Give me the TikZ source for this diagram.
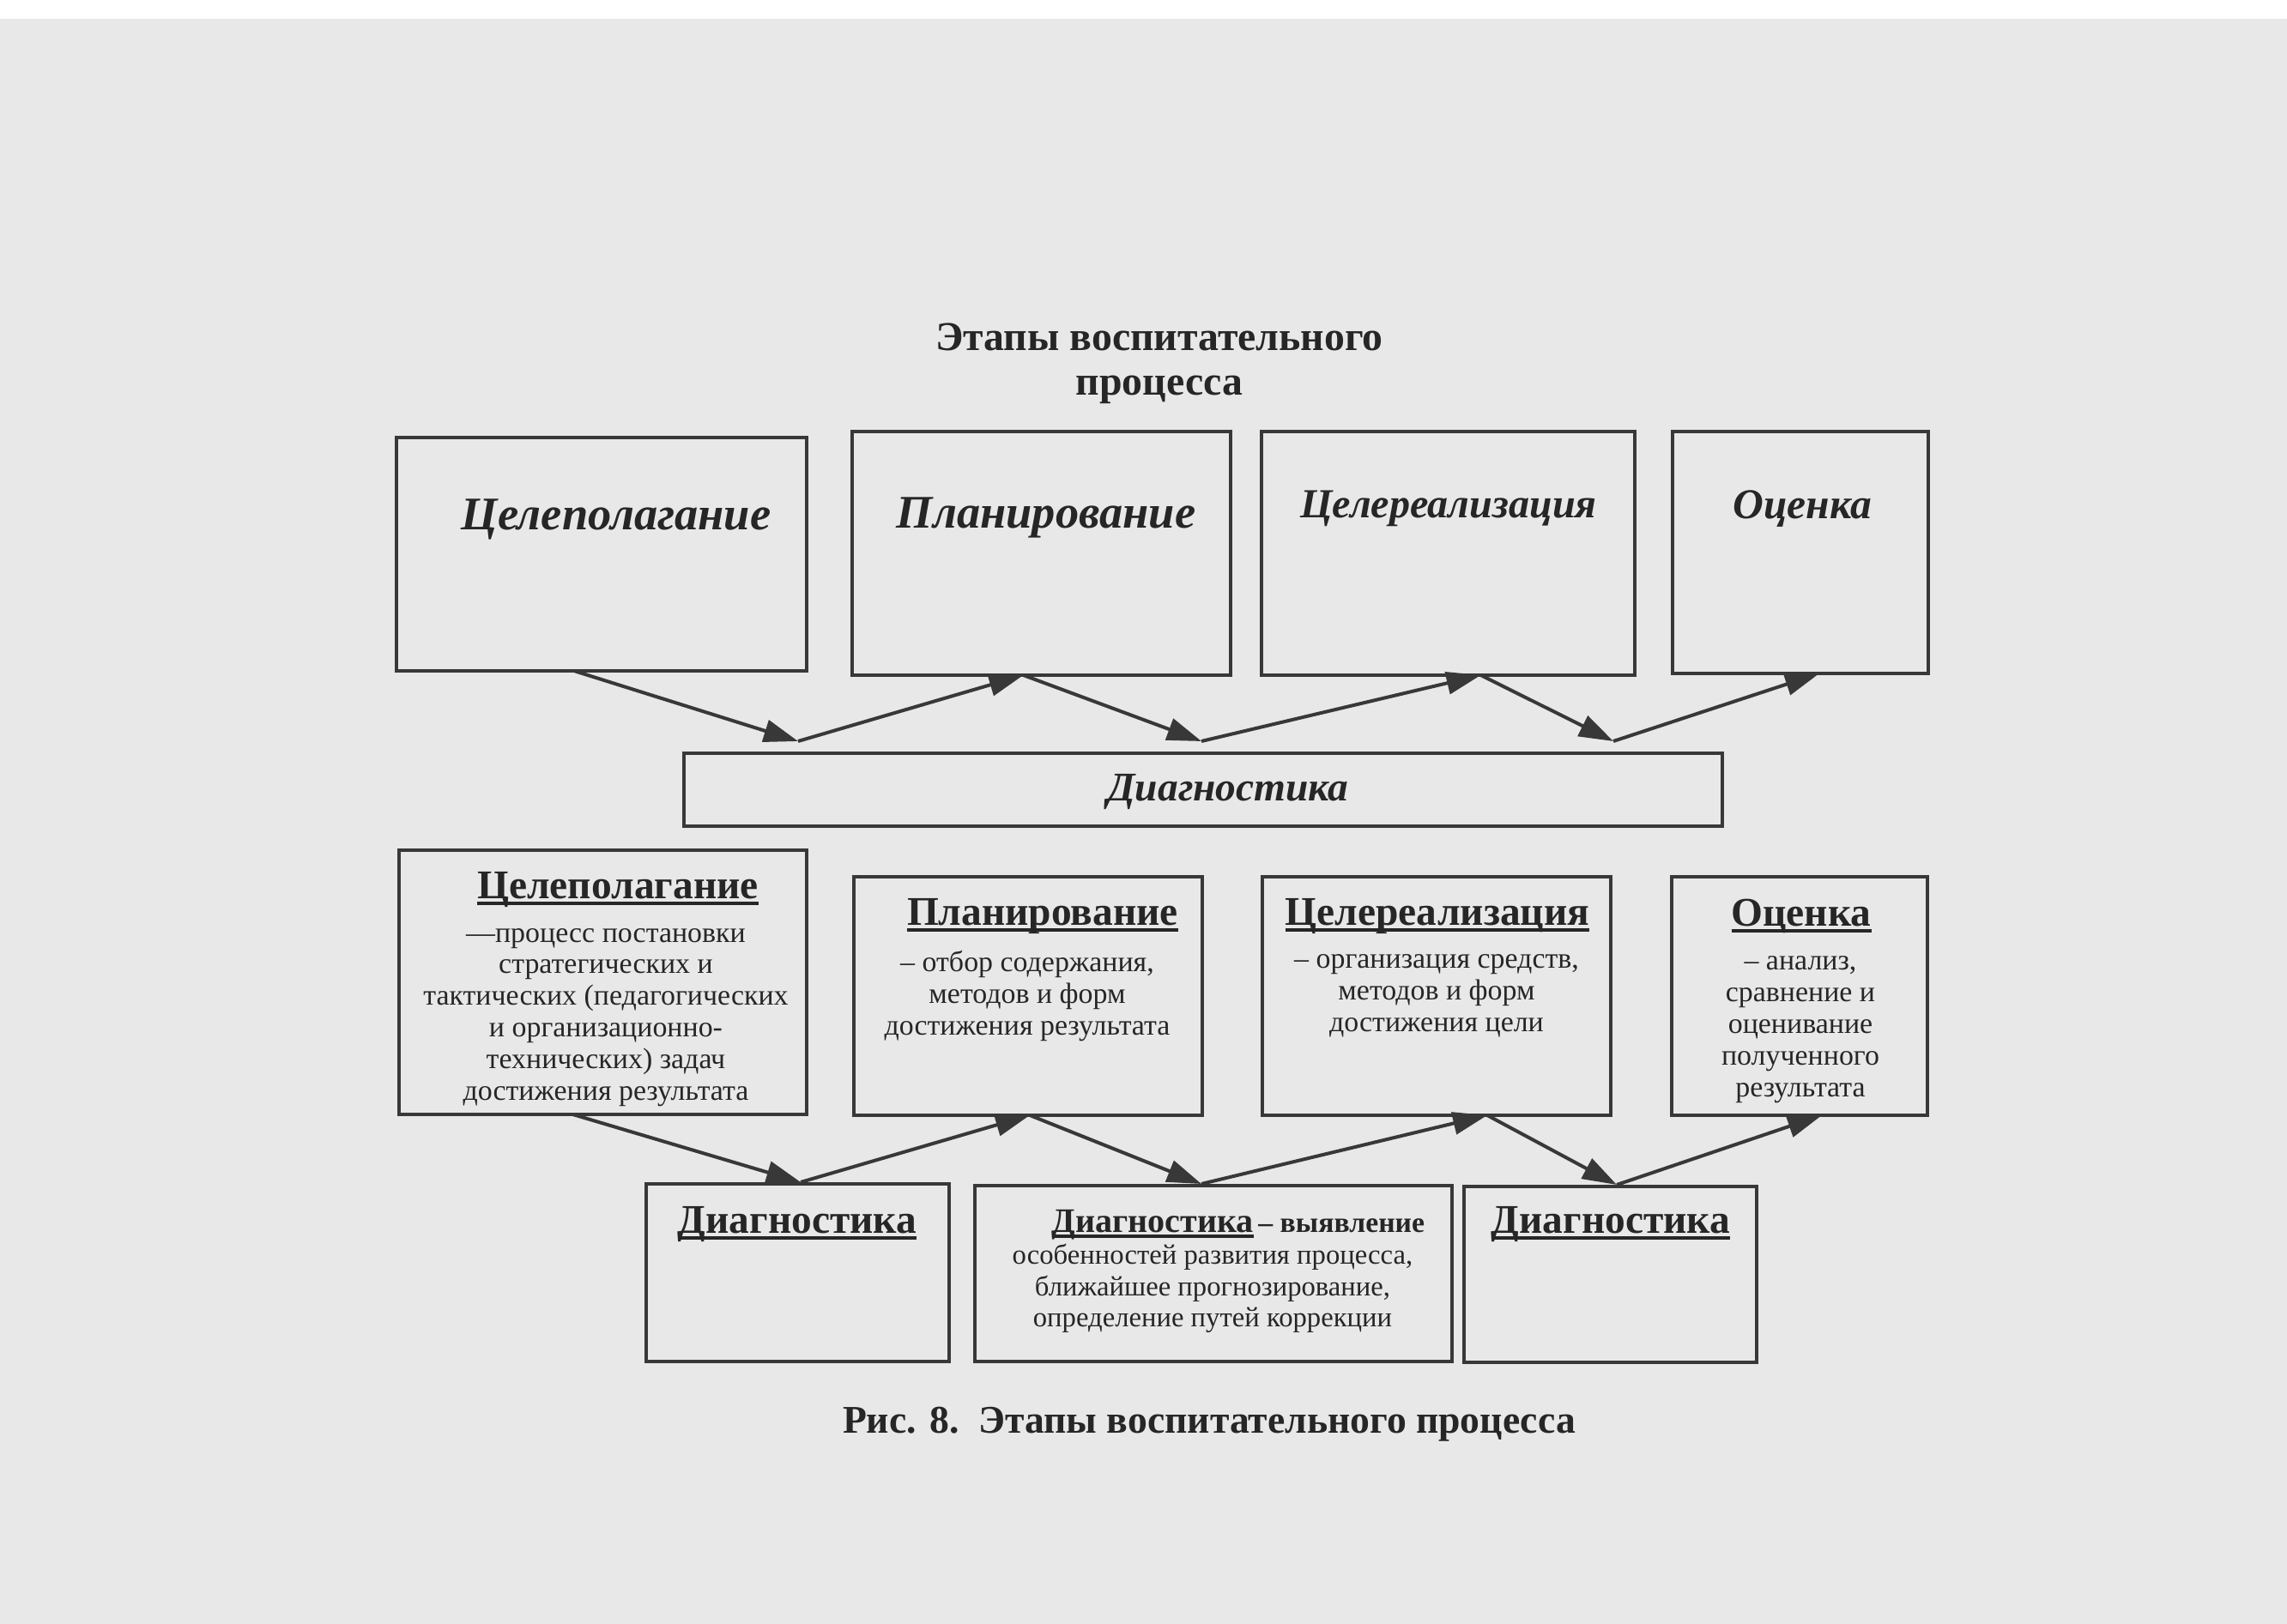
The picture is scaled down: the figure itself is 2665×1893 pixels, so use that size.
\documentclass[tikz,border=0pt]{standalone}
\usepackage{fontspec}
\setmainfont{Liberation Serif}
\usetikzlibrary{arrows.meta,calc}
\definecolor{paper}{HTML}{E8E8E8}
\definecolor{ink}{HTML}{262626}
\definecolor{linec}{HTML}{383838}
\newcommand\myul[1]{\setbox0\hbox{#1}\leavevmode\rlap{\rule[-0.16em]{\wd0}{1.1pt}}\box0}
\newcommand\fs[2]{\fontsize{#1}{#2}\selectfont}
\begin{document}
\begin{tikzpicture}[x=0.1mm,y=-0.1mm,
  box/.style={draw=linec,line width=0.45mm,inner sep=0,outer sep=0,anchor=north west},
  arr/.style={draw=linec,line width=0.4mm,-{Triangle[length=4mm,width=2.6mm]}},
  txt/.style={text=ink,inner sep=0,align=center},
  topital/.style={txt,font=\bfseries\itshape},
  head/.style={txt,font=\bfseries\fs{13.5}{15}},
  body/.style={txt,font=\fs{9.65}{10.5}},
]
\fill[paper] (0,0) rectangle (2665,1893);
\fill[white] (0,0) rectangle (2665,22);
\useasboundingbox (0,0) rectangle (2665,1893);

% title
\node[txt,font=\bfseries\fs{13.6}{14.8}] (title) at (1351,424) {Этапы воспитательного\\процесса};

% top row boxes
\node[box,minimum width=47.8mm,minimum height=27.2mm] (T1) at (462,510) {};
\node[box,minimum width=44.1mm,minimum height=28.4mm] (T2) at (993,503) {};
\node[box,minimum width=43.5mm,minimum height=28.4mm] (T3) at (1470,503) {};
\node[box,minimum width=29.8mm,minimum height=28.2mm] (T4) at (1949,503) {};
\node[topital,font=\bfseries\itshape\fs{15.5}{16}] (T1t) at (718,605) {Целеполагание};
\node[topital,font=\bfseries\itshape\fs{15.5}{16}] (T2t) at (1219,603) {Планирование};
\node[topital,font=\bfseries\itshape\fs{13.7}{15}] (T3t) at (1688,593) {Целереализация};
\node[topital,font=\bfseries\itshape\fs{14.1}{15}] (T4t) at (2100,593) {Оценка};

% wide diagnostics
\node[box,minimum width=121mm,minimum height=8.5mm] (D) at (797,878) {};
\node[topital,font=\bfseries\itshape\fs{13.5}{14}] (Dt) at (1431,923) {Диагностика};

% top arrows
\coordinate (j1) at (930,864);
\coordinate (j2) at (1400,864);
\coordinate (j3) at (1880,864);
\draw[arr] ([xshift=-3.2mm]T1.south) -- (j1);
\draw[arr] (j1) -- ([xshift=-2.1mm]T2.south);
\draw[arr] ([xshift=-2.1mm]T2.south) -- (j2);
\draw[arr] (j2) -- ([xshift=3.8mm]T3.south);
\draw[arr] ([xshift=3.8mm]T3.south) -- (j3);
\draw[arr] (j3) -- ([xshift=2.2mm]T4.south);

% bottom row boxes
\node[box,minimum width=47.5mm,minimum height=30.8mm] (B1) at (465,991) {};
\node[box,minimum width=40.6mm,minimum height=27.8mm] (B2) at (995,1022) {};
\node[box,minimum width=40.6mm,minimum height=27.8mm] (B3) at (1471,1022) {};
\node[box,minimum width=29.8mm,minimum height=27.8mm] (B4) at (1948,1022) {};

\node[head] (B1h) at (720,1037) {\myul{Целеполагание}};
\node[body] (B1b) at (706,1186) {—процесс постановки\\стратегических и\\тактических (педагогических\\и организационно-\\технических) задач\\достижения результата};
\node[head] (B2h) at (1215,1068) {\myul{Планирование}};
\node[body] (B2b) at (1197,1161) {– отбор содержания,\\методов и форм\\достижения результата};
\node[head] (B3h) at (1675,1068) {\myul{Целереализация}};
\node[body] (B3b) at (1674,1161) {– организация средств,\\методов и форм\\достижения цели};
\node[head] (B4h) at (2099,1068) {\myul{Оценка}};
\node[body] (B4b) at (2098,1200) {– анализ,\\сравнение и\\оценивание\\полученного\\результата};

% lower diagnostics
\node[box,minimum width=35.3mm,minimum height=20.7mm] (L1) at (753,1380) {};
\node[box,minimum width=55.6mm,minimum height=20.5mm] (L2) at (1136,1382) {};
\node[box,minimum width=34.1mm,minimum height=20.5mm] (L3) at (1706,1383) {};
\node[head] (L1h) at (929,1427) {\myul{Диагностика}};
\node[head] (L3h) at (1877,1427) {\myul{Диагностика}};
\node[body,font=\fs{9.3}{10.5}] (L2b) at (1413,1482) {\hspace*{6mm}{\bfseries\fs{11.4}{12}\myul{Диагностика}}\,{\bfseries\fs{9.6}{10.5}–~выявление}\\особенностей развития процесса,\\ближайшее прогнозирование,\\определение путей коррекции};

% bottom arrows
\coordinate (k1) at (933,1378);
\coordinate (k2) at (1400,1380);
\coordinate (k3) at (1884,1381);
\draw[arr] ([xshift=-3.5mm]B1.south) -- (k1);
\draw[arr] (k1) -- ([xshift=0.2mm]B2.south);
\draw[arr] ([xshift=0.2mm]B2.south) -- (k2);
\draw[arr] (k2) -- ([xshift=5.9mm]B3.south);
\draw[arr] ([xshift=5.9mm]B3.south) -- (k3);
\draw[arr] (k3) -- ([xshift=2.6mm]B4.south);

% caption
\node[txt,font=\bfseries\fs{13}{14}] (cap) at (1409,1660) {Рис. 8.\ \ Этапы воспитательного процесса};
\end{tikzpicture}
\end{document}
